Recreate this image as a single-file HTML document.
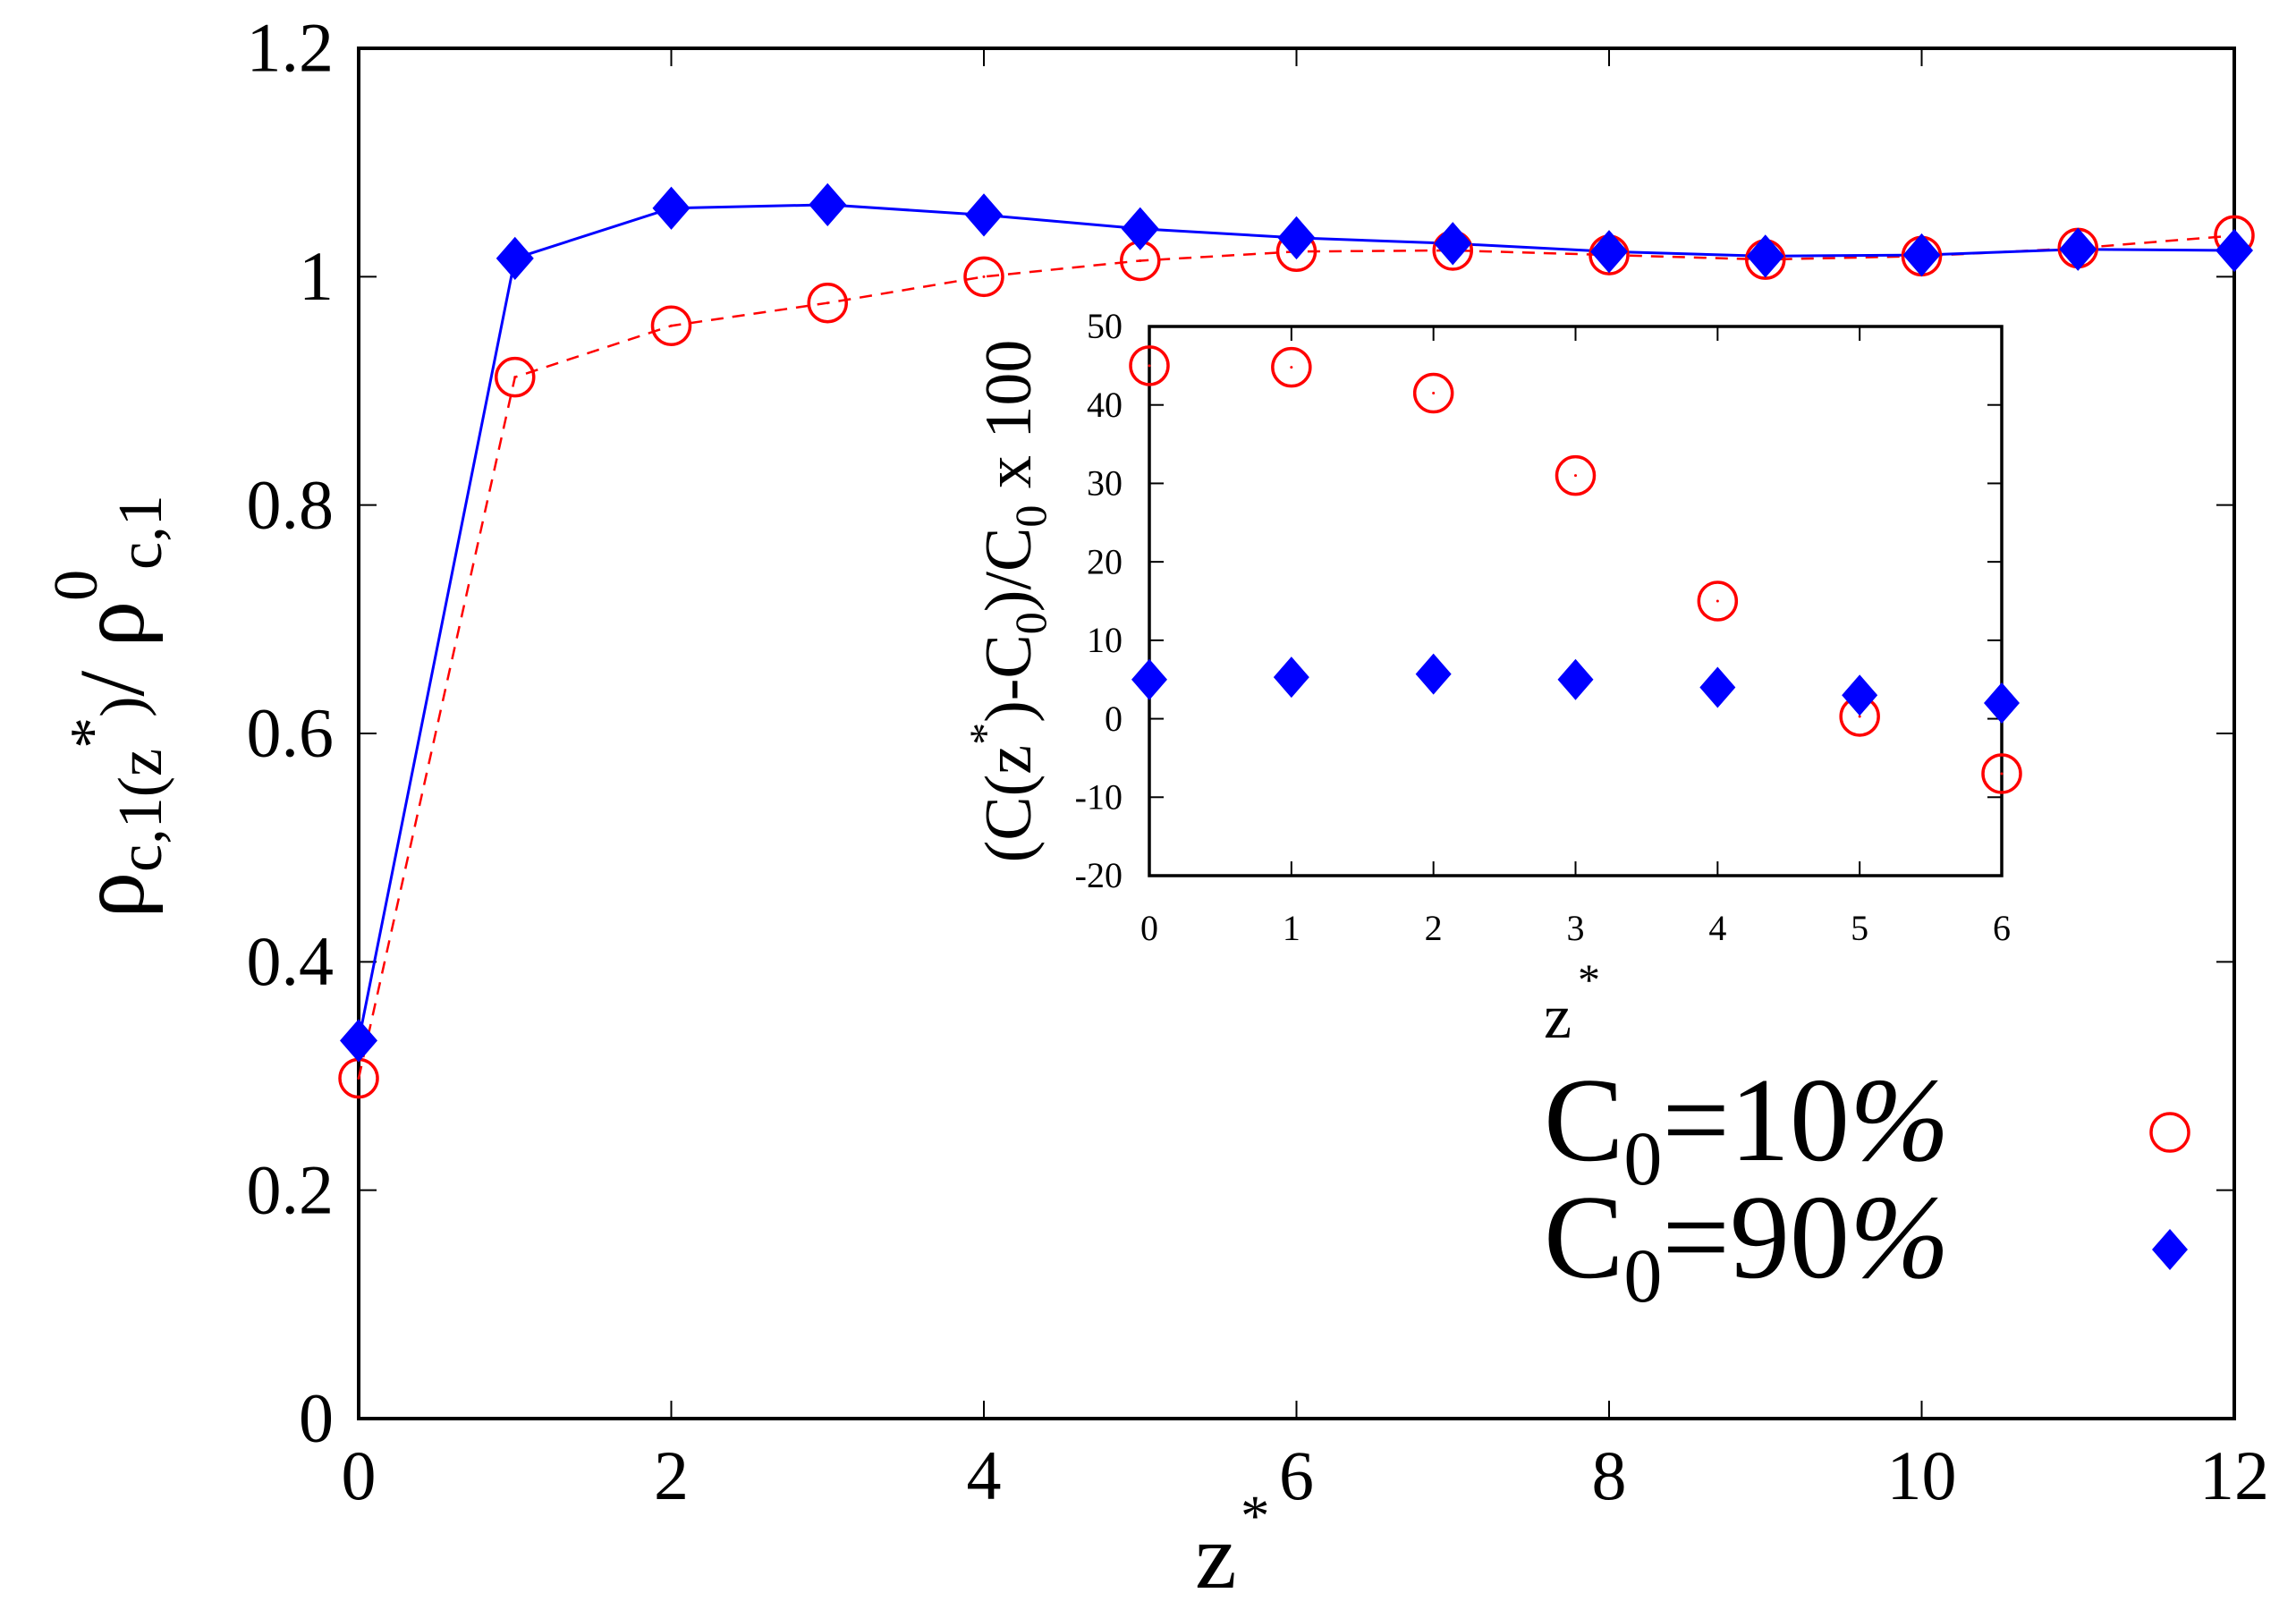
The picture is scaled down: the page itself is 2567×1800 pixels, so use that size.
<!DOCTYPE html>
<html><head><meta charset="utf-8"><style>
html,body{margin:0;padding:0;background:#fff;}
svg{display:block;font-family:"Liberation Serif",serif;}
</style></head><body>
<svg id="chart" width="2567" height="1800" viewBox="0 0 2567 1800" xmlns="http://www.w3.org/2000/svg">
<g id="main"></g>
<g id="inset"></g>
<text transform="translate(160,790) rotate(-90)" text-anchor="middle" font-size="104">ρ<tspan font-size="70" dy="20">c,1(z</tspan><tspan font-size="70" dy="-54">*</tspan><tspan font-size="70" dy="34">)</tspan><tspan dy="0">/ ρ</tspan><tspan font-size="70" dy="-52">0</tspan><tspan font-size="70" dy="72">c,1</tspan></text>
<text x="1336" y="1775" font-size="105">z</text>
<text x="1387" y="1716" font-size="65">*</text>
<text transform="translate(1152,672) rotate(-90)" text-anchor="middle" font-size="74">(C(z<tspan font-size="50" dy="-34">*</tspan><tspan dy="34">)-C</tspan><tspan font-size="50" dy="17">0</tspan><tspan dy="-17">)/C</tspan><tspan font-size="50" dy="17">0</tspan><tspan dy="-17"> x 100</tspan></text>
<text x="1726" y="1160" font-size="70">z</text>
<text x="1764" y="1112" font-size="50">*</text>
<g>
<text x="1726" y="1297" font-size="134">C<tspan font-size="86" dy="27">0</tspan><tspan dy="-27">=10</tspan><tspan font-style="italic">%</tspan></text>
<text x="1726" y="1428" font-size="134">C<tspan font-size="86" dy="27">0</tspan><tspan dy="-27">=90</tspan><tspan font-style="italic">%</tspan></text>
<circle cx="2426" cy="1266" r="21" fill="none" stroke="#ff0000" stroke-width="3.5"/>
<polygon points="2426,1374 2446,1397 2426,1420 2406,1397" fill="#0000ff"/>
</g>
</svg>
<script>
const xMain = [0,1,2,3,4,5,6,7,8,9,10,11,12];
const red10 = [0.298,0.912,0.957,0.977,1.0,1.014,1.022,1.023,1.019,1.015,1.018,1.025,1.036];
const blue90 = [0.331,1.016,1.060,1.063,1.054,1.042,1.034,1.029,1.022,1.018,1.019,1.024,1.023];
const xTicksMain = ["0","2","4","6","8","10","12"];
const yTicksMain = ["0","0.2","0.4","0.6","0.8","1","1.2"];
const xInset = [0,1,2,3,4,5,6];
const redInset = [45,44.8,41.5,31,15,0.3,-7];
const blueInset = [5,5.3,5.7,5,4,3,2];
const xTicksInset = ["0","1","2","3","4","5","6"];
const yTicksInset = ["-20","-10","0","10","20","30","40","50"];

const NS="http://www.w3.org/2000/svg";
function mk(parent,tag,attrs){const e=document.createElementNS(NS,tag);for(const k in attrs)e.setAttribute(k,attrs[k]);parent.appendChild(e);return e;}

function drawPlot(g,cfg){
  const sx=v=>cfg.x0+(v-cfg.xmin)/(cfg.xmax-cfg.xmin)*(cfg.x1-cfg.x0);
  const sy=v=>cfg.y1-(v-cfg.ymin)/(cfg.ymax-cfg.ymin)*(cfg.y1-cfg.y0);
  cfg.xt.forEach(t=>{const v=parseFloat(t),x=sx(v);
    const a=mk(g,'line',{x1:x,y1:cfg.y1,x2:x,y2:cfg.y1-cfg.tl,stroke:'#000','stroke-width':2});
    
    
    const b=mk(g,'line',{x1:x,y1:cfg.y0,x2:x,y2:cfg.y0+cfg.tl,stroke:'#000','stroke-width':2});
    
    
    const tx=mk(g,'text',{x:x,y:cfg.y1+cfg.xlo,'text-anchor':'middle','font-size':cfg.fs});
    tx.textContent=t;
    
    
  });
  cfg.yt.forEach(t=>{const v=parseFloat(t),y=sy(v);
    const a=mk(g,'line',{x1:cfg.x0,y1:y,x2:cfg.x0+cfg.tl,y2:y,stroke:'#000','stroke-width':2});
    
    
    const b=mk(g,'line',{x1:cfg.x1,y1:y,x2:cfg.x1-cfg.tl,y2:y,stroke:'#000','stroke-width':2});
    
    
    const tx=mk(g,'text',{x:cfg.x0-cfg.ylo,y:y+cfg.fs*0.33,'text-anchor':'end','font-size':cfg.fs});
    tx.textContent=t;
    
    
  });
  const fr=mk(g,'rect',{x:cfg.x0,y:cfg.y0,width:cfg.x1-cfg.x0,height:cfg.y1-cfg.y0,fill:'none',stroke:'#000','stroke-width':cfg.aw});
  
  
  if(cfg.lines){
    const pr=mk(g,'polyline',{points:cfg.xs.map((v,i)=>sx(v)+','+sy(cfg.red[i])).join(' '),fill:'none',stroke:'#ff0000','stroke-width':2.5,'stroke-dasharray':'14,10'});
    
    
    const pb=mk(g,'polyline',{points:cfg.xs.map((v,i)=>sx(v)+','+sy(cfg.blue[i])).join(' '),fill:'none',stroke:'#0000ff','stroke-width':3});
    
    
  }
  cfg.xs.forEach((v,i)=>{const x=sx(v),y=sy(cfg.red[i]);
    const c=mk(g,'circle',{cx:x,cy:y,r:cfg.r,fill:'none',stroke:'#ff0000','stroke-width':3.5});
    
    
    const d=mk(g,'circle',{cx:x,cy:y,r:1.5,fill:'#ff0000'});
    
    
  });
  cfg.xs.forEach((v,i)=>{const x=sx(v),y=sy(cfg.blue[i]),h=cfg.d;
    const p=mk(g,'polygon',{points:`${x},${y-h*1.15} ${x+h},${y} ${x},${y+h*1.15} ${x-h},${y}`,fill:'#0000ff'});
    
    
  });
}
drawPlot(document.getElementById('main'),{x0:401,x1:2498,y0:54,y1:1586,xmin:0,xmax:12,ymin:0,ymax:1.2,
  xt:xTicksMain,yt:yTicksMain,xs:xMain,red:red10,blue:blue90,lines:true,tl:20,fs:78,xlo:90,ylo:28,aw:4,r:21,d:21});
drawPlot(document.getElementById('inset'),{x0:1285,x1:2238,y0:365,y1:979,xmin:0,xmax:6,ymin:-20,ymax:50,
  xt:xTicksInset,yt:yTicksInset,xs:xInset,red:redInset,blue:blueInset,lines:false,tl:16,fs:40,xlo:72,ylo:30,aw:3.5,r:21,d:20});
</script>
</body></html>
